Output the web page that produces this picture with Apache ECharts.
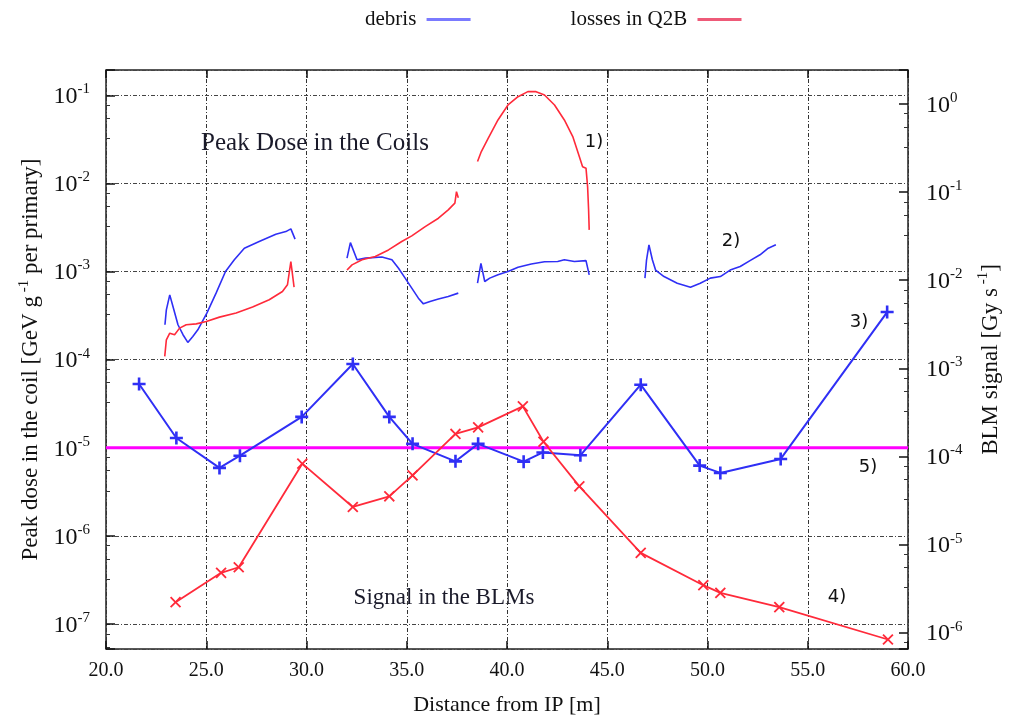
<!DOCTYPE html>
<html><head><meta charset="utf-8">
<script src="https://cdn.jsdelivr.net/npm/echarts@6/dist/echarts.min.js"></script>
<style>html,body{margin:0;padding:0;background:#fff}#c{width:1010px;height:723px}</style>
</head><body><div id="c"></div>
<script>
// ---------- data ----------
const xTickValues = [20, 25, 30, 35, 40, 45, 50, 55, 60];

// Peak dose in the coils, debris (left axis)
const debrisCoilA = [[22.94,2.49e-4],[23.01,3.68e-4],[23.18,5.44e-4],[23.34,4.01e-4],[23.59,2.49e-4],[23.84,1.92e-4],[24.08,1.57e-4],[24.33,1.83e-4],[24.58,2.18e-4],[25.03,3.37e-4],[25.49,5.69e-4],[25.96,1.0e-3],[26.40,1.36e-3],[26.90,1.84e-3],[27.64,2.19e-3],[28.47,2.65e-3],[28.97,2.84e-3],[29.22,3.05e-3],[29.43,2.33e-3]];
const debrisCoilB = [[32.02,1.42e-3],[32.19,2.13e-3],[32.52,1.36e-3],[32.94,1.42e-3],[33.76,1.46e-3],[34.26,1.36e-3],[34.59,1.09e-3],[34.92,8.42e-4],[35.25,6.48e-4],[35.58,4.99e-4],[35.83,4.30e-4],[36.16,4.57e-4],[36.58,4.87e-4],[37.07,5.21e-4],[37.57,5.69e-4]];
const debrisCoilC = [[38.53,7.38e-4],[38.70,1.24e-3],[38.89,7.71e-4],[39.14,8.42e-4],[39.55,9.18e-4],[40.05,1.0e-3],[40.55,1.12e-3],[41.21,1.22e-3],[41.87,1.29e-3],[42.53,1.30e-3],[42.86,1.36e-3],[43.36,1.30e-3],[43.94,1.33e-3],[44.10,9.18e-4]];
const debrisCoilD = [[46.88,8.42e-4],[46.96,1.36e-3],[47.08,2.01e-3],[47.25,1.36e-3],[47.41,1.04e-3],[47.83,8.77e-4],[48.49,7.38e-4],[49.15,6.65e-4],[49.64,7.38e-4],[50.14,8.42e-4],[50.64,8.77e-4],[51.13,1.04e-3],[51.63,1.14e-3],[52.12,1.33e-3],[52.62,1.55e-3],[53.03,1.84e-3],[53.41,2.01e-3]];

// Peak dose in the coils, losses in Q2B (left axis)
const lossesCoilA = [[22.93,1.09e-4],[23.01,1.68e-4],[23.18,2.0e-4],[23.42,1.92e-4],[23.67,2.28e-4],[24.0,2.49e-4],[24.50,2.55e-4],[25.0,2.71e-4],[25.66,3.04e-4],[26.49,3.38e-4],[27.31,3.95e-4],[28.14,4.78e-4],[28.80,5.93e-4],[29.05,7.07e-4],[29.22,1.30e-3],[29.38,6.65e-4]];
const lossesCoilB = [[32.02,1.04e-3],[32.27,1.19e-3],[32.77,1.36e-3],[33.43,1.48e-3],[34.09,1.76e-3],[34.75,2.19e-3],[35.25,2.54e-3],[35.92,3.24e-3],[36.58,4.03e-3],[37.07,5.01e-3],[37.40,5.97e-3],[37.48,8.07e-3],[37.57,6.86e-3]];
const lossesCoilC = [[38.53,1.77e-2],[38.72,2.30e-2],[39.06,3.25e-2],[39.55,5.25e-2],[40.05,7.77e-2],[40.55,9.64e-2],[41.04,0.110],[41.45,0.110],[41.87,0.1007],[42.37,7.77e-2],[42.86,5.25e-2],[43.28,3.40e-2],[43.61,2.01e-2],[43.77,1.55e-2],[43.94,1.49e-2],[44.02,9.2e-3],[44.07,5.0e-3],[44.10,2.97e-3]];

// BLM signal (right axis)
const blmDebris = [[21.65,6.64e-4],[23.51,1.62e-4],[25.66,7.41e-5],[26.68,1.02e-4],[29.76,2.81e-4],[32.31,1.12e-3],[34.13,2.81e-4],[35.29,1.39e-4],[37.43,8.8e-5],[38.56,1.39e-4],[40.83,8.73e-5],[41.79,1.11e-4],[43.66,1.03e-4],[46.67,6.52e-4],[49.61,7.87e-5],[50.64,6.5e-5],[53.65,9.37e-5],[58.96,4.35e-3]];
const blmLosses = [[23.47,2.22e-6],[25.74,4.78e-6],[26.62,5.53e-6],[29.79,8.28e-5],[32.31,2.67e-5],[34.13,3.53e-5],[35.29,6.1e-5],[37.43,1.8e-4],[38.56,2.14e-4],[40.79,3.7e-4],[41.82,1.47e-4],[43.61,4.58e-5],[46.67,8.05e-6],[49.79,3.46e-6],[50.64,2.83e-6],[53.58,1.95e-6],[59.0,8.37e-7]];

// threshold line 5) (left axis)
const thresholdLine = [[20, 1e-5], [60, 1e-5]];

// ---------- chart ----------
const SERIF = "'Liberation Serif', 'DejaVu Serif', serif";
const SANS = "'DejaVu Sans', sans-serif";
const BLUE = '#2f2ff5';
const RED = '#ff2a3a';
const PLUS = 'path://M4,0H6V4H10V6H6V10H4V6H0V4H4Z';
const THIN_PLUS = 'path://M4.35,0H5.65V4.35H10V5.65H5.65V10H4.35V5.65H0V4.35H4.35Z';

function logLabel(v) {
  const e = Math.log10(v);
  const r = Math.round(e);
  if (Math.abs(e - r) > 1e-6) return '';
  return '{b|10}{s|' + r + '}';
}
const labelRich = {
  b: { fontFamily: SERIF, fontSize: 24, color: '#111', verticalAlign: 'bottom' },
  s: { fontFamily: SERIF, fontSize: 15, color: '#111', verticalAlign: 'bottom', padding: [0, 0, 12, 0] }
};
const nameRich = {
  t: { fontFamily: SERIF, fontSize: 23, color: '#111', verticalAlign: 'bottom' },
  s: { fontFamily: SERIF, fontSize: 15, color: '#111', verticalAlign: 'bottom', padding: [0, 0, 11, 0] }
};

function curve(name, data, color) {
  return { name, type: 'line', yAxisIndex: 0, data, showSymbol: false, symbol: 'none',
    lineStyle: { color, width: 1.6 }, itemStyle: { color }, z: 3 };
}

const chart = echarts.init(document.getElementById('c'), null, { renderer: 'canvas' });
chart.setOption({
  animation: false,
  backgroundColor: '#fff',
  grid: { left: 106, right: 98, top: 70, bottom: 74, show: true, borderColor: '#222', borderWidth: 1.5, backgroundColor: 'transparent' },
  legend: {
    data: [
      { name: 'debris', itemStyle: { color: '#7a7aff' }, lineStyle: { color: '#7a7aff' } },
      { name: 'losses in Q2B', itemStyle: { color: '#ee5a78' }, lineStyle: { color: '#ee5a78' } }
    ],
    left: 360, top: 4, align: 'right', itemWidth: 44, itemHeight: 3, itemGap: 100,
    icon: 'rect',
    formatter: n => n + ' ',
    textStyle: { fontFamily: SERIF, fontSize: 21, color: '#111' }
  },
  xAxis: [{
    type: 'value', min: xTickValues[0], max: xTickValues[xTickValues.length - 1], interval: 5,
    name: 'Distance from IP [m]', nameLocation: 'middle', nameGap: 45,
    nameTextStyle: { fontFamily: SERIF, fontSize: 22, color: '#111' },
    axisLine: { show: false },
    axisTick: { show: true, inside: true, length: 8, lineStyle: { color: '#111', width: 1.5 } },
    axisLabel: { fontFamily: SERIF, fontSize: 20, color: '#111', margin: 12, formatter: v => v.toFixed(1) },
    splitLine: { show: true, lineStyle: { color: '#333', width: 1, type: [4, 2, 1, 2] } }
  }, {
    type: 'value', position: 'top', min: 20, max: 60, interval: 5,
    axisLine: { show: false }, axisLabel: { show: false }, splitLine: { show: false },
    axisTick: { show: true, inside: true, length: 8, lineStyle: { color: '#111', width: 1.5 } }
  }],
  yAxis: [{
    type: 'log', logBase: 10, min: Math.pow(10, -7.283), max: Math.pow(10, -0.713),
    position: 'left',
    name: '{t|Peak dose in the coil [GeV g}{s| -1}{t| per primary]}',
    nameLocation: 'middle', nameGap: 61, nameRotate: 90,
    nameTextStyle: { rich: nameRich },
    axisLine: { show: false },
    axisTick: { show: true, inside: true, length: 9, lineStyle: { color: '#111', width: 1.5 } },
    minorTick: { show: true, splitNumber: 4, length: 4, lineStyle: { color: '#333', width: 1 } },
    axisLabel: { showMinLabel: false, showMaxLabel: false, margin: 16, formatter: logLabel, rich: labelRich },
    splitLine: { show: true, lineStyle: { color: '#444', width: 1, type: [4, 2, 1, 2] } }
  }, {
    type: 'log', logBase: 10, min: Math.pow(10, -6.185), max: Math.pow(10, 0.385),
    position: 'right',
    name: '{t|BLM signal [Gy s}{s| -1}{t|]}',
    nameLocation: 'middle', nameGap: 68, nameRotate: 90,
    nameTextStyle: { rich: nameRich },
    axisLine: { show: false },
    axisTick: { show: true, inside: true, length: 9, lineStyle: { color: '#111', width: 1.5 } },
    minorTick: { show: true, splitNumber: 4, length: 4, lineStyle: { color: '#333', width: 1 } },
    axisLabel: { showMinLabel: false, showMaxLabel: false, margin: 18, formatter: logLabel, rich: labelRich },
    splitLine: { show: false }
  }],
  series: [
    curve('debris', debrisCoilA, BLUE),
    curve('debris', debrisCoilB, BLUE),
    curve('debris', debrisCoilC, BLUE),
    curve('debris', debrisCoilD, BLUE),
    curve('losses in Q2B', lossesCoilA, RED),
    curve('losses in Q2B', lossesCoilB, RED),
    curve('losses in Q2B', lossesCoilC, RED),
    { name: 'threshold', type: 'line', yAxisIndex: 0, data: thresholdLine, symbol: 'none',
      lineStyle: { color: '#ff00ff', width: 3 }, itemStyle: { color: '#ff00ff' }, z: 2 },
    { name: 'debris', type: 'line', yAxisIndex: 1, data: blmDebris, symbol: PLUS, symbolSize: 13, symbolKeepAspect: true,
      lineStyle: { color: BLUE, width: 2 }, itemStyle: { color: BLUE }, z: 4 },
    { name: 'losses in Q2B', type: 'line', yAxisIndex: 1, data: blmLosses, symbol: THIN_PLUS, symbolSize: 14, symbolRotate: 45, symbolKeepAspect: true,
      lineStyle: { color: RED, width: 1.8 }, itemStyle: { color: RED }, z: 4 }
  ],
  graphic: [
    { type: 'text', x: 315, y: 143, style: { text: 'Peak Dose in the Coils', font: '25px ' + SERIF, fill: '#1a1a2a', align: 'center', verticalAlign: 'middle' } },
    { type: 'text', x: 444, y: 598, style: { text: 'Signal in the BLMs', font: '23px ' + SERIF, fill: '#1a1a2a', align: 'center', verticalAlign: 'middle' } },
    { type: 'text', x: 594, y: 142, style: { text: '1)', font: '18px ' + SANS, fill: '#111', align: 'center', verticalAlign: 'middle' } },
    { type: 'text', x: 731, y: 241, style: { text: '2)', font: '18px ' + SANS, fill: '#111', align: 'center', verticalAlign: 'middle' } },
    { type: 'text', x: 859, y: 322, style: { text: '3)', font: '18px ' + SANS, fill: '#111', align: 'center', verticalAlign: 'middle' } },
    { type: 'text', x: 837, y: 597, style: { text: '4)', font: '18px ' + SANS, fill: '#111', align: 'center', verticalAlign: 'middle' } },
    { type: 'text', x: 868, y: 467, style: { text: '5)', font: '18px ' + SANS, fill: '#111', align: 'center', verticalAlign: 'middle' } }
  ]
});
</script>
</body></html>
